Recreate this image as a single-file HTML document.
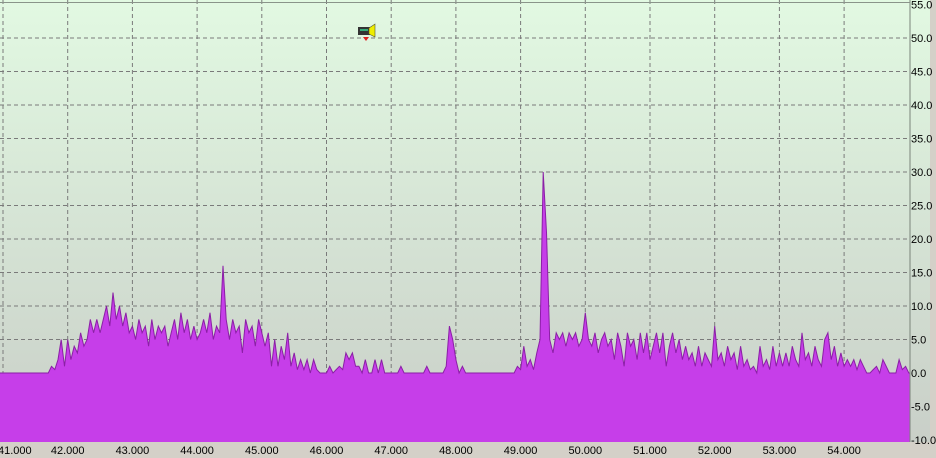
<!DOCTYPE html>
<html><head><meta charset="utf-8"><style>
html,body{margin:0;padding:0;width:936px;height:458px;overflow:hidden;background:#d4d0c8;}
svg{display:block;font-family:"Liberation Sans",sans-serif;}
</style></head><body>
<svg id="chart" width="936" height="458">
<defs><linearGradient id="bg" x1="0" y1="0" x2="0" y2="1">
<stop offset="0" stop-color="#e2f9e2"/><stop offset="1" stop-color="#c9cfc8"/></linearGradient></defs>
<rect x="0" y="0" width="930" height="442" fill="url(#bg)"/>
<rect x="930" y="0" width="6" height="458" fill="#d4d0c8"/>
<rect x="0" y="442" width="930" height="16" fill="#d4d0c8"/>
<g id="grid"></g><g id="series"></g><g id="axes"></g>
<g transform="translate(358,24)">
<rect x="0" y="3" width="12" height="8" fill="#333"/><rect x="2" y="5" width="8" height="2" fill="#3a7"/>
<polygon points="11,4 17,0 17,13 11,10" fill="#ee0" stroke="#553" stroke-width="0.6"/>
<polygon points="5,13 11,13 8,17" fill="#d22"/></g>
</svg>
<script>
const xStart = 41, xStep = 0.05;
const values = [
0,0,0,0,0,0,0,0,0,0,0,0,0,0,0,1,0.5,2,5,1,
5,2,4,3,6,4,5,8,6,8,6,8,10,7,12,8,10,7,9,6,
7,5,8,6,7,4,8,5,7,6,7,4,6,8,5,9,6,8,5,7,
5,6,8,6,9,5,7,6,16,8,5,8,6,7,3,8,6,7,4,8,
6,4,6,1,5,1,4,2,6,1,3,0.5,2,0.5,2,0,2,0.5,0,0,
0,1,0,0.5,1,0.5,3,2,3,1,1,0,2,0,0,2,0,2,0,0,
0,0,0,1,0,0,0,0,0,0,0,1,0,0,0,0,0,1,7,5,
2,0,1,0,0,0,0,0,0,0,0,0,0,0,0,0,0,0,0,1,
0.5,4,1,2,0.5,3,5,30,21,5,3,6,5,6,4,6,5,6,4,5,
9,5,4,6,3,5,6,4,5,2,6,4,1,6,4,5,2,6,3,6,
2,4,6,3,6,1,4,6,3,5,2,4,2,3,1,4,1,3,2,1,
7,2,3,1,4,2,3,0.5,4,1,2,0.5,1,0,4,1,2,0.5,4,1,
3,1,3,1,4,2,1,6,2,3,1,4,2,1,5,6,2,4,1,3,
1,2,1,2,0.5,2,1,0,0,0.5,1,0,2,1,0,0,0,2,0.5,1,
0];
const xTicks = [41,42,43,44,45,46,47,48,49,50,51,52,53,54];
const xTickLabels = ["41.000","42.000","43.000","44.000","45.000","46.000","47.000","48.000","49.000","50.000","51.000","52.000","53.000","54.000"];
const yTicks = [55,50,45,40,35,30,25,20,15,10,5,0,-5,-10];
const yTickLabels = ["55.0","50.0","45.0","40.0","35.0","30.0","25.0","20.0","15.0","10.0","5.0","0.0","-5.0","-10.0"];

const NS="http://www.w3.org/2000/svg";
function X(v){return 3+(v-41)*64.7;}
function Y(v){return 373-v*6.7;}
const PR=910, PB=442;
function mk(t,a,p){const e=document.createElementNS(NS,t);for(const k in a)e.setAttribute(k,a[k]);p.appendChild(e);return e;}
const grid=document.getElementById('grid'), ser=document.getElementById('series'), ax=document.getElementById('axes');
xTicks.forEach((t,i)=>{
  const l=mk('line',{x1:X(t),x2:X(t),y1:0,y2:PB,stroke:'#7a7a7a','stroke-dasharray':'4,3'},grid);
  
  
  const first=(i===0);
  const tx=mk('text',{x:first?-2:X(t),y:454,'font-size':11,'text-anchor':first?'start':'middle',fill:'#000'},ax);
  tx.textContent=xTickLabels[i];
  
  
});
yTicks.forEach((t,i)=>{
  if(t>-10&&t<55){
    const l=mk('line',{x1:0,x2:PR,y1:Y(t),y2:Y(t),stroke:'#7a7a7a','stroke-dasharray':'4,3'},grid);
    
    
  }
  const tx=mk('text',{x:911,y:Y(t)+4,'font-size':11,fill:'#000'},ax);
  tx.textContent=yTickLabels[i];
  
  
});
let pts=values.map((v,i)=>[X(xStart+i*xStep),Y(v)]);
pts.unshift([0,Y(values[0])]);
pts.push([PR,Y(values[values.length-1])]);
let line=pts.map(p=>p[0].toFixed(1)+','+p[1].toFixed(1)).join(' ');
const area=mk('polygon',{points:'0,'+PB+' '+line+' '+PR+','+PB,fill:'#c63ee9'},ser);


const pl=mk('polyline',{points:line,fill:'none',stroke:'#8b1fa6','stroke-width':1},ser);


const b=mk('line',{x1:PR,x2:PR,y1:0,y2:PB,stroke:'#7a847a'},ax);


const bt=mk('line',{x1:0,x2:PR,y1:2.5,y2:2.5,stroke:'#8a948a'},ax);


</script>
</body></html>
